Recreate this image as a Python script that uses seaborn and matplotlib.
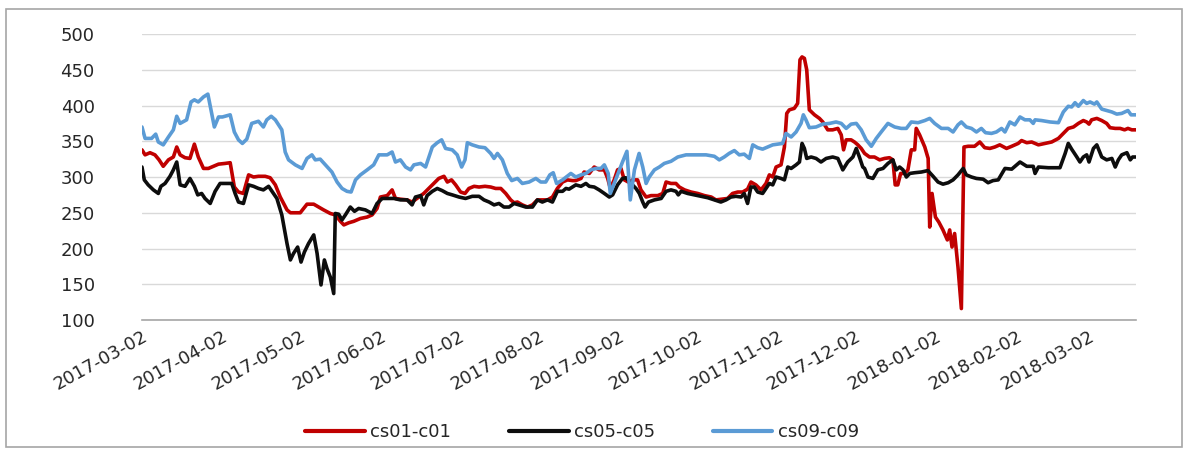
import pandas as pd
import matplotlib.pyplot as plt
import seaborn as sns
from matplotlib.patches import Rectangle

start = pd.Timestamp("2017-03-02")
end_day = 383.0   # last trading day, days after start

# days after 2017-03-02 and spread values
red_day = [0, 1.2, 3.1, 5.0, 6.6, 8.2, 10.2, 12.1, 13.4, 14.7, 16.6, 18.5, 20.2, 21.7, 23.7, 25.6, 27.5, 29.5,
           32.0, 34.0, 35.6, 37.2, 39.1, 41.1, 43.0, 44.9, 47.5, 49.4, 51.4, 53.3, 55.9, 57.2, 61.0, 63.6, 66.2,
           68.1, 70.0, 72.6, 74.5, 76.5, 77.8, 79.7, 81.6, 84.2, 86.8, 88.7, 90.6, 91.9, 94.5, 96.4, 97.7, 99.6,
           102.2, 104.1, 106.7, 108.6, 111.9, 114.4, 116.4, 117.7, 119.3, 120.9, 122.8, 124.5, 126.0, 128.0, 129.9,
           132.2, 134.4, 136.3, 138.3, 140.2, 142.1, 143.4, 144.7, 146.6, 148.6, 150.5, 152.4, 156.3, 158.2, 160.1,
           162.1, 164.0, 165.9, 167.2, 169.2, 170.4, 172.4, 174.3, 176.2, 178.2, 179.5, 180.5, 182.0, 183.3, 184.6,
           185.9, 187.4, 189.1, 191.0, 192.3, 194.3, 196.2, 198.8, 200.7, 202.0, 203.9, 205.8, 207.1, 209.1, 211.6,
           214.2, 216.8, 219.4, 221.2, 225.7, 227.6, 229.6, 231.5, 233.4, 234.7, 236.6, 238.6, 240.5, 241.8, 243.1,
           244.4, 246.3, 247.6, 248.5, 249.5, 251.4, 252.7, 253.6, 254.4, 255.3, 256.2, 257.2, 259.2, 261.1, 262.4,
           264.3, 266.2, 268.2, 269.5, 270.4, 271.4, 273.3, 274.6, 275.9, 277.2, 278.5, 280.4, 282.3, 284.3, 286.2,
           288.1, 289.4, 290.3, 291.3, 292.4, 293.9, 295.2, 296.5, 297.8, 298.4, 299.7, 301.7, 303.0, 303.6, 304.5,
           305.8, 307.1, 308.7, 310.4, 311.3, 312.2, 313.2, 314.5, 315.8, 316.8, 318.4, 320.9, 322.9, 324.8, 326.8,
           328.7, 330.6, 333.2, 335.2, 337.7, 339.0, 341.0, 342.9, 345.5, 348.0, 350.6, 353.2, 355.1, 357.0, 359.0,
           360.9, 362.8, 364.1, 365.0, 366.0, 368.0, 369.9, 371.8, 373.1, 375.1, 377.0, 378.7, 380.0, 381.5, 383.0]
red_val = [338, 331, 334, 331, 324, 315, 324, 328, 342, 331, 327, 326, 346, 328, 312, 312, 315, 318,
           319, 320, 286, 279, 277, 303, 300, 301, 301, 299, 289, 272, 254, 250, 250, 262, 262,
           258, 254, 249, 247, 238, 233, 236, 238, 242, 244, 247, 256, 272, 274, 282, 270, 269,
           268, 265, 272, 277, 289, 298, 301, 293, 296, 289, 279, 277, 284, 287, 286,
           287, 286, 284, 284, 277, 268, 264, 265, 261, 258, 261, 268, 268, 272, 284,
           293, 296, 295, 295, 298, 307, 305, 314, 310, 310, 298, 284, 296, 310, 312,
           296, 293, 296, 296, 282, 272, 274, 274, 277, 293, 291, 291, 286, 282, 279,
           277, 274, 272, 268, 270, 277, 279, 279, 283, 293, 289, 282, 291, 303, 300,
           314, 317, 342, 389, 394, 396, 403, 464, 468, 466, 450, 394, 387, 382, 377,
           366, 366, 368, 359, 338, 352, 352, 349, 345, 340, 333, 328, 328, 324, 326,
           327, 324, 289, 289, 305, 305, 310, 338, 338, 368, 359, 342, 326, 230, 277,
           244, 237, 226, 212, 226, 202, 221, 174, 116, 342, 343, 343, 349, 341, 340,
           342, 345, 340, 343, 347, 351, 348, 349, 345, 347, 349, 354, 361, 368, 370,
           375, 379, 377, 374, 380, 382, 379, 375, 369, 368, 368, 366, 368, 366, 366]

black_day = [0, 0.9, 2.4, 4.4, 6.3, 7.3, 8.9, 10.8, 12.1, 13.4, 14.7, 16.6, 18.5, 20.2, 21.5, 23.0, 24.3, 26.3,
             28.2, 30.1, 32.0, 34.6, 35.9, 37.2, 39.1, 41.1, 43.0, 44.9, 46.8, 48.8, 50.1, 52.0, 53.9, 55.9, 57.2,
             58.4, 60.0, 61.3, 62.6, 64.2, 66.2, 67.5, 69.0, 70.3, 71.3, 72.6, 73.9, 74.5, 75.8, 77.1, 78.4, 80.3,
             81.9, 83.5, 86.1, 88.7, 90.6, 92.6, 94.5, 97.1, 99.6, 102.2, 104.1, 105.4, 107.4, 108.6, 109.9, 111.9,
             113.8, 115.7, 117.7, 119.6, 122.2, 124.7, 127.3, 129.9, 131.8, 133.8, 135.7, 137.6, 139.5, 141.5, 143.4,
             145.3, 147.9, 150.5, 152.4, 154.3, 156.3, 158.2, 160.1, 162.1, 163.4, 164.6, 167.2, 169.2, 171.1, 172.4,
             174.3, 176.2, 178.2, 180.1, 181.4, 183.3, 185.2, 186.5, 188.5, 190.4, 191.7, 193.0, 193.9, 195.2, 197.5,
             200.1, 202.0, 203.9, 205.8, 206.7, 207.8, 210.3, 212.9, 215.5, 218.1, 220.6, 223.1, 225.1, 227.0, 228.9,
             230.9, 232.1, 233.4, 234.7, 236.0, 237.3, 239.2, 240.5, 241.8, 243.1, 244.4, 246.3, 247.6, 248.9, 250.2,
             252.1, 253.4, 254.4, 255.3, 256.2, 257.9, 259.8, 261.7, 263.7, 266.2, 268.2, 270.1, 272.0, 274.0, 275.3,
             276.5, 277.8, 278.5, 279.8, 281.7, 283.6, 285.6, 287.5, 289.4, 290.7, 292.0, 293.3, 294.6, 295.9, 297.8,
             300.4, 302.9, 304.9, 306.8, 308.7, 310.7, 312.6, 314.5, 316.5, 317.7, 319.7, 321.6, 324.2, 326.1, 328.0,
             330.0, 332.6, 335.2, 338.4, 341.0, 343.5, 344.2, 345.5, 349.3, 353.8, 355.8, 357.0, 358.3, 360.3, 361.5,
             362.8, 364.1, 365.0, 366.7, 368.0, 369.9, 371.8, 373.8, 375.1, 376.3, 377.6, 379.6, 380.9, 381.8, 383.0]
black_val = [314, 296, 289, 282, 277, 287, 291, 301, 310, 321, 289, 287, 298, 287, 275, 277, 270, 263,
             280, 291, 291, 291, 277, 265, 263, 289, 287, 284, 282, 287, 280, 270, 247, 207, 184,
             193, 202, 181, 195, 207, 219, 193, 149, 184, 172, 160, 137, 249, 248, 240, 247, 258,
             252, 256, 254, 249, 263, 270, 270, 270, 268, 268, 261, 272, 274, 261, 274, 280,
             284, 281, 277, 275, 272, 270, 273, 273, 268, 265, 261, 263, 258, 258, 263,
             261, 258, 258, 268, 265, 268, 265, 280, 280, 284, 283, 289, 287, 291, 287,
             286, 282, 277, 272, 275, 289, 298, 299, 291, 284, 277, 265, 258, 265, 268,
             270, 280, 282, 280, 275, 280, 277, 275, 273, 271, 268, 265, 268, 272, 273,
             272, 277, 263, 286, 286, 279, 277, 284, 291, 289, 300, 298, 296, 314, 312,
             317, 321, 347, 340, 326, 328, 326, 321, 326, 328, 326, 310, 321, 328, 340,
             328, 314, 312, 300, 298, 310, 312, 319, 324, 310, 314, 310, 300, 305, 306,
             307, 309, 301, 293, 290, 292, 296, 303, 312, 303, 300, 298, 297, 292, 295,
             296, 312, 311, 321, 315, 315, 305, 314, 313, 313, 333, 347, 339, 328, 321,
             328, 331, 321, 340, 345, 328, 324, 326, 314, 324, 331, 334, 324, 328, 328]

blue_day = [0, 1.2, 3.7, 5.3, 6.3, 8.2, 10.2, 12.1, 13.4, 14.7, 17.2, 18.9, 20.2, 21.7, 23.7, 25.4, 26.6, 27.9,
            29.5, 31.0, 34.0, 35.6, 37.2, 38.7, 40.4, 42.3, 44.9, 46.8, 48.1, 49.8, 51.4, 53.9, 55.2, 56.5, 59.1,
            61.7, 63.6, 65.5, 66.8, 68.7, 70.7, 73.2, 75.2, 77.1, 79.0, 80.6, 82.3, 84.2, 86.8, 89.3, 91.3, 94.5,
            96.4, 97.7, 99.6, 101.6, 103.5, 104.8, 107.4, 109.3, 110.6, 111.9, 113.8, 115.5, 117.0, 119.6, 121.5,
            123.2, 124.5, 125.4, 127.3, 129.9, 132.2, 134.4, 135.7, 137.0, 138.9, 140.8, 142.5, 144.7, 146.6, 149.2,
            151.8, 153.7, 155.6, 157.2, 158.5, 159.8, 162.1, 164.6, 165.3, 167.2, 169.2, 171.1, 173.0, 175.0, 176.9,
            178.2, 179.7, 180.5, 182.0, 184.0, 185.2, 186.9, 188.2, 189.8, 191.6, 193.0, 194.3, 195.5, 197.5, 199.4,
            201.3, 203.9, 206.5, 209.7, 214.2, 217.4, 220.6, 222.5, 224.4, 226.3, 228.3, 230.2, 232.1, 234.1, 235.4,
            237.3, 239.2, 241.2, 243.1, 246.9, 248.2, 250.2, 252.1, 254.0, 254.9, 255.9, 257.2, 259.8, 262.4, 265.0,
            267.5, 269.5, 271.4, 273.3, 275.3, 277.2, 279.1, 281.1, 283.0, 284.9, 287.5, 290.1, 292.6, 294.6, 296.5,
            299.1, 301.7, 303.6, 305.5, 308.1, 310.7, 312.6, 314.5, 315.8, 317.7, 319.7, 321.6, 323.5, 325.1, 327.4,
            329.3, 331.3, 332.6, 334.5, 336.4, 338.4, 340.3, 342.2, 343.5, 344.2, 346.7, 350.0, 353.2, 355.1, 357.0,
            358.3, 359.6, 360.9, 362.8, 364.1, 365.4, 367.1, 368.0, 369.9, 371.8, 373.8, 375.7, 377.6, 380.0, 381.2,
            383.0]
blue_val = [370, 354, 354, 360, 349, 345, 356, 366, 385, 375, 380, 405, 408, 405, 412, 416, 394, 370,
            384, 384, 387, 363, 352, 347, 353, 375, 378, 370, 380, 385, 380, 366, 335, 324, 317,
            312, 326, 331, 324, 325, 317, 307, 293, 284, 280, 279, 296, 303, 310, 317, 331, 331,
            335, 321, 324, 314, 310, 317, 319, 314, 328, 342, 348, 352, 340, 338, 331,
            314, 324, 348, 345, 342, 341, 333, 326, 333, 324, 305, 295, 298, 291, 293,
            298, 293, 293, 303, 306, 291, 296, 303, 305, 300, 303, 305, 310, 312, 312,
            317, 305, 277, 291, 310, 321, 336, 268, 310, 333, 314, 291, 300, 310, 314,
            319, 322, 328, 331, 331, 331, 329, 324, 328, 333, 337, 331, 332, 326, 345,
            341, 339, 342, 345, 347, 361, 356, 363, 375, 387, 380, 369, 370, 374, 375,
            377, 375, 368, 374, 375, 366, 352, 343, 354, 363, 375, 370, 368, 368, 377,
            376, 379, 382, 375, 368, 368, 363, 373, 377, 370, 368, 363, 368, 362, 361,
            363, 368, 363, 377, 373, 384, 380, 380, 375, 380, 379, 377, 376, 391, 399,
            398, 404, 399, 407, 403, 405, 402, 405, 395, 393, 391, 388, 389, 393, 387,
            387]

series_names = ["cs01-c01", "cs05-c05", "cs09-c09"]
colors = ["#C00000", "#0D0D0D", "#5B9BD5"]
tick_labels = ["2017-03-02", "2017-04-02", "2017-05-02", "2017-06-02", "2017-07-02", "2017-08-02",
               "2017-09-02", "2017-10-02", "2017-11-02", "2017-12-02", "2018-01-02", "2018-02-02",
               "2018-03-02"]
y_ticks = [100, 150, 200, 250, 300, 350, 400, 450, 500]

frames = []
for name, days, vals in zip(series_names, [red_day, black_day, blue_day], [red_val, black_val, blue_val]):
    frames.append(pd.DataFrame({"date": start + pd.to_timedelta(days, unit="D"), "value": vals, "series": name}))
df = pd.concat(frames, ignore_index=True)

sns.set_style("white")
plt.rcParams["font.family"] = ["DejaVu Sans"]

fig = plt.figure(figsize=(11.88, 4.51), dpi=100)
ax = fig.add_axes([0.1195, 0.2905, 0.8365, 0.634])

sns.lineplot(data=df, x="date", y="value", hue="series", palette=colors, hue_order=series_names,
             estimator=None, sort=False, linewidth=2.6, ax=ax, legend=False)

ax.set_xlim(start, start + pd.Timedelta(days=end_day))
ax.set_ylim(100, 500)
ax.set_yticks(y_ticks)
ax.set_yticklabels([str(v) for v in y_ticks], fontsize=13, color="#262626")
ax.grid(axis="y", color="#d9d9d9", linewidth=1)
ax.grid(axis="x", visible=False)
ax.set_xticks(pd.to_datetime(tick_labels))
ax.set_xticklabels(tick_labels, rotation=29, ha="right", rotation_mode="anchor", fontsize=13, color="#262626")
ax.tick_params(axis="both", length=0)
ax.tick_params(axis="y", pad=34)
ax.tick_params(axis="x", pad=5)
for s in ["left", "right", "top"]:
    ax.spines[s].set_visible(False)
ax.spines["bottom"].set_color("#a6a6a6")
ax.spines["bottom"].set_linewidth(1.2)
ax.set_xlabel("")
ax.set_ylabel("")

handles = [plt.Line2D([], [], color=c, linewidth=3) for c in colors]
fig.legend(handles, series_names, loc="center", bbox_to_anchor=(0.49, 0.042), ncol=3, frameon=False,
           fontsize=13, handlelength=3.3, handletextpad=0.3, columnspacing=3.2)

fig.patches.append(Rectangle((0.005, 0.008), 0.99, 0.972, transform=fig.transFigure,
                             fill=False, edgecolor="#a6a6a6", linewidth=1.2))

fig.savefig("out.png", dpi=100)
